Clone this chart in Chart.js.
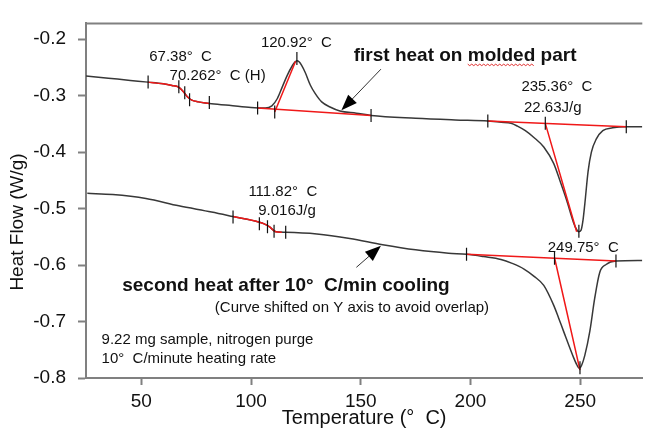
<!DOCTYPE html>
<html>
<head>
<meta charset="utf-8">
<script src="https://cdn.jsdelivr.net/npm/chart.js@4.4.0/dist/chart.umd.min.js"></script>
<style>
  html, body { margin: 0; padding: 0; background: #fff; }
</style>
</head>
<body>
<canvas id="dscChart" width="650" height="430"></canvas>
<script>
const FONT = '"Liberation Sans", Arial, sans-serif';

// first heat on molded part (temperature degC, heat flow W/g)
const firstHeatTemp = [24.8, 35, 45, 53, 60, 64, 67, 69, 71, 73, 76, 81, 90, 100, 106.5, 109.5, 112, 114.3, 116.5, 118.8, 119.9, 120.9, 121.9, 123, 124.7, 127, 129.2, 132.2, 136, 140.5, 148, 154.7, 175, 193, 208, 214, 218.5, 221.4, 225, 228.9, 233.4, 237.9, 240.9, 243.9, 246.9, 248.2, 249.3, 250.4, 251.3, 252.1, 253.6, 255.1, 257.3, 260.3, 264.8, 270.8, 278.3];
const firstHeatFlow = [-0.265, -0.269, -0.273, -0.276, -0.279, -0.282, -0.285, -0.292, -0.302, -0.308, -0.311, -0.314, -0.317, -0.321, -0.322, -0.318, -0.305, -0.284, -0.264, -0.247, -0.241, -0.238, -0.240, -0.246, -0.259, -0.281, -0.296, -0.311, -0.320, -0.327, -0.331, -0.335, -0.340, -0.343, -0.345, -0.347, -0.349, -0.354, -0.362, -0.374, -0.391, -0.420, -0.452, -0.486, -0.524, -0.536, -0.541, -0.538, -0.520, -0.492, -0.434, -0.400, -0.377, -0.362, -0.357, -0.355, -0.355];

// second heat after 10 C/min cooling (shifted on Y)
const secondHeatTemp = [25.4, 37, 52.1, 67.1, 82, 91.8, 103.8, 106, 108.3, 111.3, 115.8, 130, 145, 160, 175, 190, 198.2, 206, 213.9, 219, 224.4, 229, 233.4, 237.9, 240.2, 242.4, 246.9, 248.5, 249.6, 250.7, 252.1, 254.4, 256.6, 258.9, 261.8, 266.3, 278.3];
const secondHeatFlow = [-0.473, -0.475, -0.482, -0.495, -0.506, -0.514, -0.524, -0.527, -0.532, -0.541, -0.542, -0.545, -0.553, -0.564, -0.573, -0.579, -0.581, -0.585, -0.590, -0.597, -0.607, -0.620, -0.636, -0.671, -0.694, -0.717, -0.763, -0.777, -0.783, -0.777, -0.760, -0.717, -0.659, -0.613, -0.599, -0.593, -0.592];

// red analysis lines
const glass1Temp = [53, 60, 64, 67, 69, 71, 73, 76, 81];
const glass1Flow = [-0.276, -0.279, -0.282, -0.285, -0.292, -0.302, -0.308, -0.311, -0.314];
const cryBaseTemp = [103, 154.7];
const cryBaseFlow = [-0.322, -0.335];
const cryTanTemp = [110.8, 120.3];
const cryTanFlow = [-0.329, -0.239];
const melt1BaseTemp = [207.9, 271.0];
const melt1BaseFlow = [-0.345, -0.355];
const melt1TanTemp = [234.1, 248.4];
const melt1TanFlow = [-0.349, -0.541];
const glass2Temp = [91.8, 103.8, 106, 108.3, 111.3, 114];
const glass2Flow = [-0.514, -0.524, -0.527, -0.532, -0.541, -0.542];
const melt2BaseTemp = [198.2, 266.3];
const melt2BaseFlow = [-0.581, -0.593];
const melt2TanTemp = [238.3, 249.9];
const melt2TanFlow = [-0.587, -0.786];

// analysis limit marks
const marks1Temp = [53.1, 67.1, 69.8, 72.0, 81.0, 103.0, 110.8, 120.9, 154.7, 207.9, 234.1, 249.4, 271.0];
const marks1Flow = [-0.276, -0.284, -0.295, -0.307, -0.312, -0.322, -0.329, -0.234, -0.335, -0.345, -0.349, -0.540, -0.355];
const marks2Temp = [91.8, 103.8, 107.5, 110.5, 115.8, 198.2, 238.3, 249.9, 266.3];
const marks2Flow = [-0.515, -0.527, -0.532, -0.540, -0.542, -0.581, -0.588, -0.782, -0.593];

// axes
const xTicks = [50, 100, 150, 200, 250];
const yTicks = [-0.8, -0.7, -0.6, -0.5, -0.4, -0.3, -0.2];

// text notes (placed in data units)
const notes = [
    { text: '67.38°  C', x: 53.6, y: -0.231, size: 15 },
    { text: '70.262°  C (H)', x: 62.9, y: -0.265, size: 15 },
    { text: '120.92°  C', x: 104.5, y: -0.207, size: 15 },
    { text: 'first heat on molded part', x: 146.8, y: -0.230, size: 19, bold: true },
    { text: '235.36°  C', x: 223.2, y: -0.284, size: 15 },
    { text: '22.63J/g', x: 224.4, y: -0.322, size: 15 },
    { text: '111.82°  C', x: 98.8, y: -0.470, size: 15 },
    { text: '9.016J/g', x: 103.3, y: -0.504, size: 15 },
    { text: 'second heat after 10°  C/min cooling', x: 41.3, y: -0.636, size: 19, bold: true },
    { text: '(Curve shifted on Y axis to avoid overlap)', x: 83.5, y: -0.675, size: 15 },
    { text: '9.22 mg sample, nitrogen purge', x: 31.9, y: -0.733, size: 15 },
    { text: '10°  C/minute heating rate', x: 31.9, y: -0.766, size: 15 },
    { text: '249.75°  C', x: 235.2, y: -0.570, size: 15 }
];
const arrows = [
    { from: [159.2, -0.253], to: [141.2, -0.326] },
    { from: [148.0, -0.604], to: [159.2, -0.566] }
];

const toXY = (xs, ys) => xs.map((v, i) => ({ x: v, y: ys[i] }));

function curve(xs, ys, color, order) {
    return {
        data: toXY(xs, ys),
        borderColor: color,
        borderWidth: 1.5,
        pointRadius: 0,
        fill: false,
        cubicInterpolationMode: 'monotone',
        order: order
    };
}

function marks(xs, ys) {
    return {
        data: toXY(xs, ys),
        showLine: false,
        pointStyle: 'line',
        pointRotation: 90,
        pointRadius: 6.5,
        pointBorderColor: '#111',
        pointBorderWidth: 1.2,
        order: 0
    };
}

const RED = '#f01818';
const datasets = [
    curve(firstHeatTemp, firstHeatFlow, '#383838', 2),
    curve(secondHeatTemp, secondHeatFlow, '#383838', 2),
    curve(glass1Temp, glass1Flow, RED, 1),
    curve(cryBaseTemp, cryBaseFlow, RED, 1),
    curve(cryTanTemp, cryTanFlow, RED, 1),
    curve(melt1BaseTemp, melt1BaseFlow, RED, 1),
    curve(melt1TanTemp, melt1TanFlow, RED, 1),
    curve(glass2Temp, glass2Flow, RED, 1),
    curve(melt2BaseTemp, melt2BaseFlow, RED, 1),
    curve(melt2TanTemp, melt2TanFlow, RED, 1),
    marks(marks1Temp, marks1Flow),
    marks(marks2Temp, marks2Flow)
];

// top frame line + y axis title
const framePlugin = {
    id: 'frame',
    afterDraw(chart) {
        const { ctx, chartArea } = chart;
        ctx.save();
        ctx.strokeStyle = '#808080';
        ctx.lineWidth = 2;
        ctx.beginPath();
        ctx.moveTo(chartArea.left - 1, chartArea.top);
        ctx.lineTo(chartArea.right, chartArea.top);
        ctx.stroke();

        ctx.fillStyle = '#111';
        ctx.font = '19px ' + FONT;
        ctx.textAlign = 'center';
        ctx.textBaseline = 'middle';
        ctx.translate(18, 222);
        ctx.rotate(-Math.PI / 2);
        ctx.fillText('Heat Flow (W/g)', 0, 0);
        ctx.restore();
    }
};

function drawArrow(ctx, x1, y1, x2, y2) {
    const ang = Math.atan2(y2 - y1, x2 - x1);
    const len = 16, half = 6;
    const c = Math.cos(ang), s = Math.sin(ang);
    ctx.beginPath();
    ctx.moveTo(x1, y1);
    ctx.lineTo(x2 - c * len * 0.7, y2 - s * len * 0.7);
    ctx.stroke();
    ctx.beginPath();
    ctx.moveTo(x2, y2);
    ctx.lineTo(x2 - c * len + s * half, y2 - s * len - c * half);
    ctx.lineTo(x2 - c * len - s * half, y2 - s * len + c * half);
    ctx.closePath();
    ctx.fill();
}

const notePlugin = {
    id: 'notes',
    afterDatasetsDraw(chart) {
        const { ctx } = chart;
        const x = chart.scales.x, y = chart.scales.y;
        ctx.save();
        ctx.fillStyle = '#111';
        ctx.textAlign = 'left';
        ctx.textBaseline = 'middle';
        notes.forEach(n => {
            ctx.font = (n.bold ? 'bold ' : '') + n.size + 'px ' + FONT;
            ctx.fillText(n.text, x.getPixelForValue(n.x), y.getPixelForValue(n.y));
        });

        // spell-check squiggle under "molded"
        const n = notes[3];
        ctx.font = 'bold ' + n.size + 'px ' + FONT;
        const sx = x.getPixelForValue(n.x) + ctx.measureText('first heat on ').width;
        const sw = ctx.measureText('molded').width;
        const sy = y.getPixelForValue(n.y) + 8;
        ctx.strokeStyle = '#e03030';
        ctx.lineWidth = 1;
        ctx.beginPath();
        for (let i = 0; i <= sw; i += 2) {
            const yy = sy + ((i / 2) % 2 ? 1.5 : 0);
            if (i === 0) ctx.moveTo(sx + i, yy); else ctx.lineTo(sx + i, yy);
        }
        ctx.stroke();

        ctx.strokeStyle = '#333';
        ctx.fillStyle = '#000';
        ctx.lineWidth = 1;
        arrows.forEach(a => {
            drawArrow(ctx,
                x.getPixelForValue(a.from[0]), y.getPixelForValue(a.from[1]),
                x.getPixelForValue(a.to[0]), y.getPixelForValue(a.to[1]));
        });
        ctx.restore();
    }
};

Chart.defaults.font.family = FONT;
Chart.defaults.color = '#111';

new Chart(document.getElementById('dscChart'), {
    type: 'line',
    data: { datasets: datasets },
    options: {
        responsive: false,
        animation: false,
        devicePixelRatio: 1,
        layout: { padding: { top: 15, right: 0, bottom: 0, left: 0 } },
        plugins: {
            legend: { display: false },
            tooltip: { enabled: false }
        },
        scales: {
            x: {
                type: 'linear',
                min: 24.8,
                max: 278.3,
                afterBuildTicks: s => { s.ticks = xTicks.map(v => ({ value: v })); },
                afterFit: s => { s.height = 52; },
                grid: { drawOnChartArea: false, tickLength: 7, tickColor: '#808080', tickWidth: 2 },
                border: { display: true, color: '#808080', width: 2 },
                ticks: { font: { size: 19 }, color: '#111', padding: 5, autoSkip: false, maxRotation: 0 },
                title: { display: true, text: 'Temperature (°  C)', font: { size: 20 }, color: '#111', padding: 0 }
            },
            y: {
                min: -0.8,
                max: -0.172,
                afterBuildTicks: s => { s.ticks = yTicks.map(v => ({ value: v })); },
                afterFit: s => { s.width = 86; },
                grid: { drawOnChartArea: false, tickLength: 8, tickColor: '#808080', tickWidth: 2 },
                border: { display: true, color: '#808080', width: 2 },
                ticks: {
                    font: { size: 19 }, color: '#111', padding: 12, autoSkip: false,
                    callback: v => v.toFixed(1)
                }
            }
        }
    },
    plugins: [framePlugin, notePlugin]
});
</script>
</body>
</html>
